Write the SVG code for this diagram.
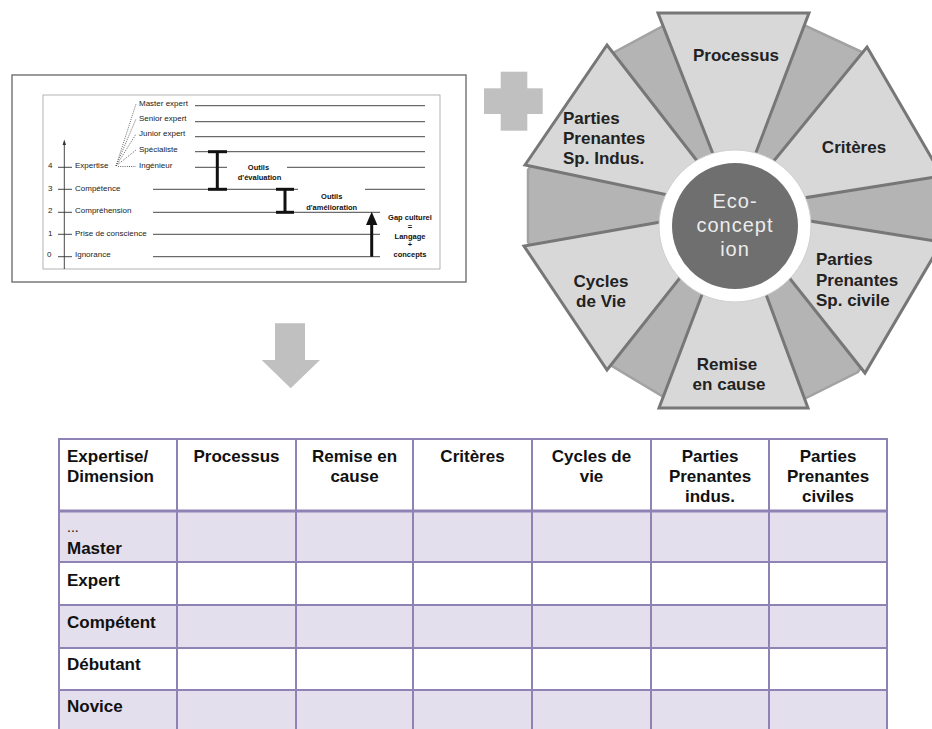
<svg xmlns="http://www.w3.org/2000/svg" width="932" height="729" viewBox="0 0 932 729">
<style>
.s{font-family:"Liberation Sans",Arial,sans-serif;font-size:8px;fill:#222}
.sb{font-family:"Liberation Sans",Arial,sans-serif;font-size:7.5px;font-weight:bold;fill:#111;text-anchor:middle}
.ln{stroke:#333;stroke-width:0.9;fill:none}
.dot{stroke:#555;stroke-width:0.9;stroke-dasharray:1 1.2;fill:none}
.ib{stroke:#111;stroke-width:3;fill:none}
.lt{fill:#d8d8d8;stroke:#777777;stroke-width:3;stroke-linejoin:miter}
.wl{font-family:"Liberation Sans",Arial,sans-serif;font-size:17px;font-weight:bold;fill:#222}
.th{font-family:"Liberation Sans",Arial,sans-serif;font-size:17px;font-weight:bold;fill:#111}
.c{text-anchor:middle}
.grid{stroke:#8f82b5;stroke-width:2;fill:none}
.lav{fill:#e4dfec}
</style>
<rect width="932" height="729" fill="#ffffff"/>

<g id="scan-figure">
 <rect x="12" y="75" width="454" height="207" fill="#fff" stroke="#7a7a7a" stroke-width="1.5"/>
 <rect x="43" y="95" width="397" height="174" fill="none" stroke="#a0a0a0" stroke-width="0.8"/>
 <line class="ln" x1="64.3" y1="144" x2="64.3" y2="269"/>
 <polygon points="64.3,139.5 62.6,145 66,145" fill="#333"/>
 <g class="ln">
  <line x1="195" y1="105.7" x2="425" y2="105.7"/>
  <line x1="195" y1="121.7" x2="425" y2="121.7"/>
  <line x1="195" y1="136.7" x2="425" y2="136.7"/>
  <line x1="195" y1="151.7" x2="425" y2="151.7"/>
  <line x1="195" y1="167.3" x2="227" y2="167.3"/>
  <line x1="287" y1="167.3" x2="425" y2="167.3"/>
  <line x1="153" y1="189.3" x2="298" y2="189.3"/>
  <line x1="365" y1="189.3" x2="425" y2="189.3"/>
  <line x1="153" y1="212.3" x2="380" y2="212.3"/>
  <line x1="153" y1="234.3" x2="380" y2="234.3"/>
  <line x1="153" y1="256.7" x2="380" y2="256.7"/>
  <line x1="58" y1="167.3" x2="72" y2="167.3"/>
  <line x1="58" y1="189.3" x2="72" y2="189.3"/>
  <line x1="58" y1="212.3" x2="72" y2="212.3"/>
  <line x1="58" y1="234.3" x2="72" y2="234.3"/>
  <line x1="58" y1="256.7" x2="72" y2="256.7"/>
 </g>
 <g class="dot">
  <line x1="116" y1="166" x2="136" y2="104"/>
  <line x1="116" y1="166" x2="136" y2="119"/>
  <line x1="116" y1="166" x2="136" y2="134"/>
  <line x1="116" y1="166" x2="136" y2="150"/>
  <line x1="118" y1="166.5" x2="136" y2="166.5"/>
 </g>
 <text class="s" x="139" y="106">Master expert</text>
 <text class="s" x="139" y="121">Senior expert</text>
 <text class="s" x="139" y="136">Junior expert</text>
 <text class="s" x="139" y="152">Spécialiste</text>
 <text class="s" x="139" y="167.5">Ingénieur</text>
 <text class="s" x="48" y="167.5">4</text>
 <text class="s" x="75" y="167.5">Expertise</text>
 <text class="s" x="48" y="191">3</text>
 <text class="s" x="75" y="191">Compétence</text>
 <text class="s" x="48" y="213">2</text>
 <text class="s" x="75" y="213">Compréhension</text>
 <text class="s" x="48" y="235.5">1</text>
 <text class="s" x="75" y="235.5">Prise de conscience</text>
 <text class="s" x="47" y="257">0</text>
 <text class="s" x="75" y="257">Ignorance</text>
 <line class="ib" x1="217.3" y1="151.7" x2="217.3" y2="189.3"/>
 <line class="ib" x1="208" y1="151.7" x2="227" y2="151.7"/>
 <line class="ib" x1="208" y1="189.3" x2="227" y2="189.3"/>
 <line class="ib" x1="285" y1="189.3" x2="285" y2="212.3"/>
 <line class="ib" x1="276" y1="189.3" x2="294" y2="189.3"/>
 <line class="ib" x1="276" y1="212.3" x2="294" y2="212.3"/>
 <line class="ib" x1="371.7" y1="256.7" x2="371.7" y2="223" stroke-width="2.6"/>
 <polygon points="371.7,211.7 366,225 377.4,225" fill="#111"/>
 <text class="sb" x="258.5" y="169.5">Outils</text>
 <text class="sb" x="259.5" y="180">d'évaluation</text>
 <text class="sb" x="331.7" y="198.8">Outils</text>
 <text class="sb" x="331.7" y="209.5">d'amélioration</text>
 <text class="sb" x="410" y="219.5">Gap culturel</text>
 <text class="sb" x="410" y="228.5">=</text>
 <text class="sb" x="410" y="238.5">Langage</text>
 <text class="sb" x="410" y="247">+</text>
 <text class="sb" x="410" y="256.8">concepts</text>
</g>

<g id="plus">
 <rect x="500.7" y="71.7" width="26.6" height="59" fill="#c0c0c0"/>
 <rect x="484" y="88.3" width="58.7" height="25.7" fill="#c0c0c0"/>
</g>

<g id="wheel">
 <polygon id="dark-ring" points="663,26 806,26 862,52 935,170 935,250 858,372 806,398 662,396 612,366 528,242 528,170 613,53" fill="#b4b4b4" stroke="#a2a2a2" stroke-width="2.5"/>
 <g id="seg-processus"><polygon class="lt" points="658,13 809,13 734.5,209"/><text class="wl c" x="736" y="61">Processus</text></g>
 <g id="seg-criteres"><polygon class="lt" points="867,47 942,176 734.5,209"/><text class="wl c" x="854" y="153">Critères</text></g>
 <g id="seg-pp-civile"><polygon class="lt" points="942,242 865,373 734.5,209"/><text class="wl" x="816"><tspan x="816" y="265">Parties</tspan><tspan x="816" y="285.5">Prenantes</tspan><tspan x="816" y="306">Sp. civile</tspan></text></g>
 <g id="seg-remise"><polygon class="lt" points="808,408 659,408 734.5,209"/><text class="wl c"><tspan x="727" y="370">Remise</tspan><tspan x="729" y="389.5">en cause</tspan></text></g>
 <g id="seg-cycles"><polygon class="lt" points="607,370 524,246 734.5,209"/><text class="wl c"><tspan x="601" y="286.7">Cycles</tspan><tspan x="601" y="306.7">de Vie</tspan></text></g>
 <g id="seg-pp-indus"><polygon class="lt" points="525,165 607,45 734.5,209"/><text class="wl"><tspan x="563" y="124">Parties</tspan><tspan x="563" y="144">Prenantes</tspan><tspan x="563" y="164">Sp. Indus.</tspan></text></g>
 <g id="center">
  <circle cx="735" cy="226" r="76" fill="#ffffff" stroke="#cfcfcf" stroke-width="1"/>
  <circle cx="735" cy="226" r="63" fill="#6f6f6f"/>
  <text font-family="Liberation Sans, Arial, sans-serif" font-size="20" fill="#ececec" text-anchor="middle" letter-spacing="1"><tspan x="735" y="208">Eco-</tspan><tspan x="735" y="232">concept</tspan><tspan x="735" y="256">ion</tspan></text>
 </g>
</g>

<g id="connectors">
 <polygon id="arrow-down" points="275,323.3 305,323.3 305,360 320,360 290.7,388.3 261.7,360 275,360" fill="#c0c0c0"/>
</g>

<g id="table">
 <rect x="59" y="439" width="828" height="72" fill="#ffffff"/>
 <rect class="lav" x="59" y="511" width="828" height="51"/>
 <rect x="59" y="562" width="828" height="43" fill="#ffffff"/>
 <rect class="lav" x="59" y="605" width="828" height="43"/>
 <rect x="59" y="648" width="828" height="42" fill="#ffffff"/>
 <rect class="lav" x="59" y="690" width="828" height="45"/>
 <g class="grid">
  <line x1="58" y1="439" x2="888" y2="439"/>
  <line x1="58" y1="511" x2="888" y2="511" stroke-width="3.2"/>
  <line x1="58" y1="562" x2="888" y2="562"/>
  <line x1="58" y1="605" x2="888" y2="605"/>
  <line x1="58" y1="648" x2="888" y2="648"/>
  <line x1="58" y1="690" x2="888" y2="690"/>
  <line x1="59" y1="438" x2="59" y2="735"/>
  <line x1="177" y1="438" x2="177" y2="735"/>
  <line x1="296" y1="438" x2="296" y2="735"/>
  <line x1="413" y1="438" x2="413" y2="735"/>
  <line x1="532" y1="438" x2="532" y2="735"/>
  <line x1="651" y1="438" x2="651" y2="735"/>
  <line x1="769" y1="438" x2="769" y2="735"/>
  <line x1="887" y1="438" x2="887" y2="735"/>
 </g>
 <text class="th"><tspan x="67" y="462">Expertise/</tspan><tspan x="67" y="482">Dimension</tspan></text>
 <text class="th c" x="236.5" y="462">Processus</text>
 <text class="th c"><tspan x="354.5" y="462">Remise en</tspan><tspan x="354.5" y="482">cause</tspan></text>
 <text class="th c" x="472.5" y="462">Critères</text>
 <text class="th c"><tspan x="591.5" y="462">Cycles de</tspan><tspan x="591.5" y="482">vie</tspan></text>
 <text class="th c"><tspan x="710" y="462">Parties</tspan><tspan x="710" y="482">Prenantes</tspan><tspan x="710" y="502">indus.</tspan></text>
 <text class="th c"><tspan x="828" y="462">Parties</tspan><tspan x="828" y="482">Prenantes</tspan><tspan x="828" y="502">civiles</tspan></text>
 <text class="th"><tspan x="67" y="532" font-weight="normal" font-size="14">...</tspan><tspan x="67" y="554">Master</tspan></text>
 <text class="th" x="67" y="586">Expert</text>
 <text class="th" x="67" y="628">Compétent</text>
 <text class="th" x="67" y="670">Débutant</text>
 <text class="th" x="67" y="712">Novice</text>
</g>
</svg>
